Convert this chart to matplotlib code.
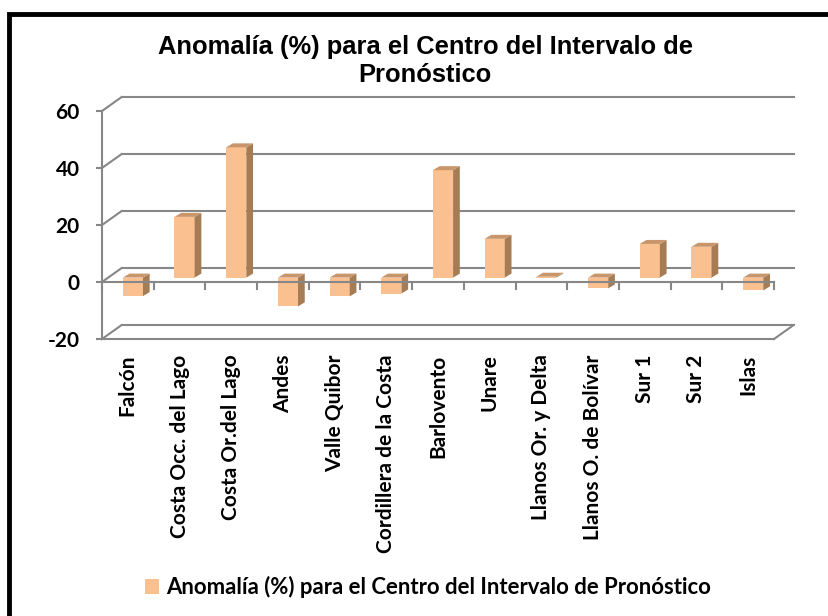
import matplotlib.pyplot as plt
from matplotlib.patches import Polygon, Rectangle

# Datos: anomalía (%) por región
regiones = ['Falcón', 'Costa Occ. del Lago', 'Costa Or.del Lago', 'Andes', 'Valle Quibor',
            'Cordillera de la Costa', 'Barlovento', 'Unare', 'Llanos Or. y Delta',
            'Llanos O. de Bolívar', 'Sur 1', 'Sur 2', 'Islas']
anomalia = [-6.5, 21.3, 45.7, -10.1, -6.6, -5.6, 37.7, 13.6, 0.3, -3.8, 11.8, 10.8, -4.5]
marcas_y = [-20, 0, 20, 40, 60]

titulo = 'Anomalía (%) para el Centro del Intervalo de\nPronóstico'
serie = 'Anomalía (%) para el Centro del Intervalo de Pronóstico'

# colores estilo Excel 3D
frente = '#FAC090'
lado = '#A67C55'
tapa = '#C8966A'
gris = '#878787'

# profundidad del "3D" en unidades de datos
dx_fondo, dy_fondo = 0.38, 4.9      # desplazamiento de la pared del fondo
fx, fy = 0.097, 1.55                # cara frontal de la barra
bdx, bdy = 0.13, 1.4                # espesor de la barra
ancho = 0.39

plt.rcParams['axes.unicode_minus'] = False
letra = dict(family='Lato', weight='bold', size=15)
letra_ley = dict(family='Lato', weight='bold', size=15.9)

fig = plt.figure(figsize=(8.29, 6.16), dpi=100)
ax = fig.add_axes([102 / 829, 1 - 339 / 616, 672 / 829, 228 / 616])
n = len(regiones)
ax.set_xlim(-0.5, n - 0.5)
ax.set_ylim(marcas_y[0], marcas_y[-1])

# ejes frontales
for s in ['top', 'right']:
    ax.spines[s].set_visible(False)
for s in ['left', 'bottom']:
    ax.spines[s].set_color(gris)
    ax.spines[s].set_linewidth(1.5)

ax.set_yticks(marcas_y)
ax.set_yticklabels([str(v) for v in marcas_y], fontdict=letra)
ax.tick_params(axis='y', length=4, width=1.5, color=gris, pad=12)
ax.set_xticks(range(n))
ax.set_xticklabels(regiones, rotation=90, va='top', ha='center', fontdict=letra)
ax.tick_params(axis='x', length=0, pad=11)

# pared del fondo: líneas de división y diagonales laterales
x_izq, x_der = -0.5, n - 0.5
for v in marcas_y:
    ax.plot([x_izq + dx_fondo, x_der + dx_fondo], [v + dy_fondo, v + dy_fondo],
            color=gris, lw=1.5, clip_on=False, zorder=1)
    ax.plot([x_izq, x_izq + dx_fondo], [v, v + dy_fondo], color=gris, lw=1.5,
            clip_on=False, zorder=1)
ax.plot([x_der, x_der + dx_fondo], [marcas_y[0], marcas_y[0] + dy_fondo],
        color=gris, lw=1.5, clip_on=False, zorder=1)

# barras 3D
for i, v in enumerate(anomalia):
    x0 = i - ancho / 2 + fx
    x1 = x0 + ancho
    y0, y1 = fy, v + fy
    alto, bajo = max(y0, y1), min(y0, y1)
    ax.add_patch(Polygon([(x0, bajo), (x1, bajo), (x1, alto), (x0, alto)],
                         fc=frente, ec='none', zorder=3, clip_on=False))
    ax.add_patch(Polygon([(x1, bajo), (x1 + bdx, bajo + bdy), (x1 + bdx, alto + bdy), (x1, alto)],
                         fc=lado, ec='none', zorder=3, clip_on=False))
    ax.add_patch(Polygon([(x0, alto), (x1, alto), (x1 + bdx, alto + bdy), (x0 + bdx, alto + bdy)],
                         fc=tapa, ec='none', zorder=3, clip_on=False))

# eje de categorías en cero con sus marcas
ax.plot([x_izq, x_der], [0, 0], color=gris, lw=1.5, zorder=4, clip_on=False)
for b in range(n + 1):
    ax.plot([b - 0.5, b - 0.5], [0, -2.5], color=gris, lw=1.5, zorder=4, clip_on=False)

# título
fig.text(425 / 829, 1 - 35 / 616, titulo, ha='center', va='top', fontsize=18.4,
         family='Liberation Sans', fontweight='bold', linespacing=1.2)

# leyenda
muestra = Rectangle((0, 0), 1, 1, fc=frente, ec='none')
fig.legend([muestra], [serie], loc='center', bbox_to_anchor=(428 / 829, 1 - 587 / 616),
           frameon=False, prop=letra_ley, handlelength=0.65, handleheight=0.65,
           handletextpad=0.3)

# marco exterior
fig.patches.append(Rectangle((9 / 829, -0.1), 1.2, 1.1 - 14 / 616,
                             transform=fig.transFigure, fill=False, ec='black', lw=3.5))

fig.savefig('out.png', dpi=100)
